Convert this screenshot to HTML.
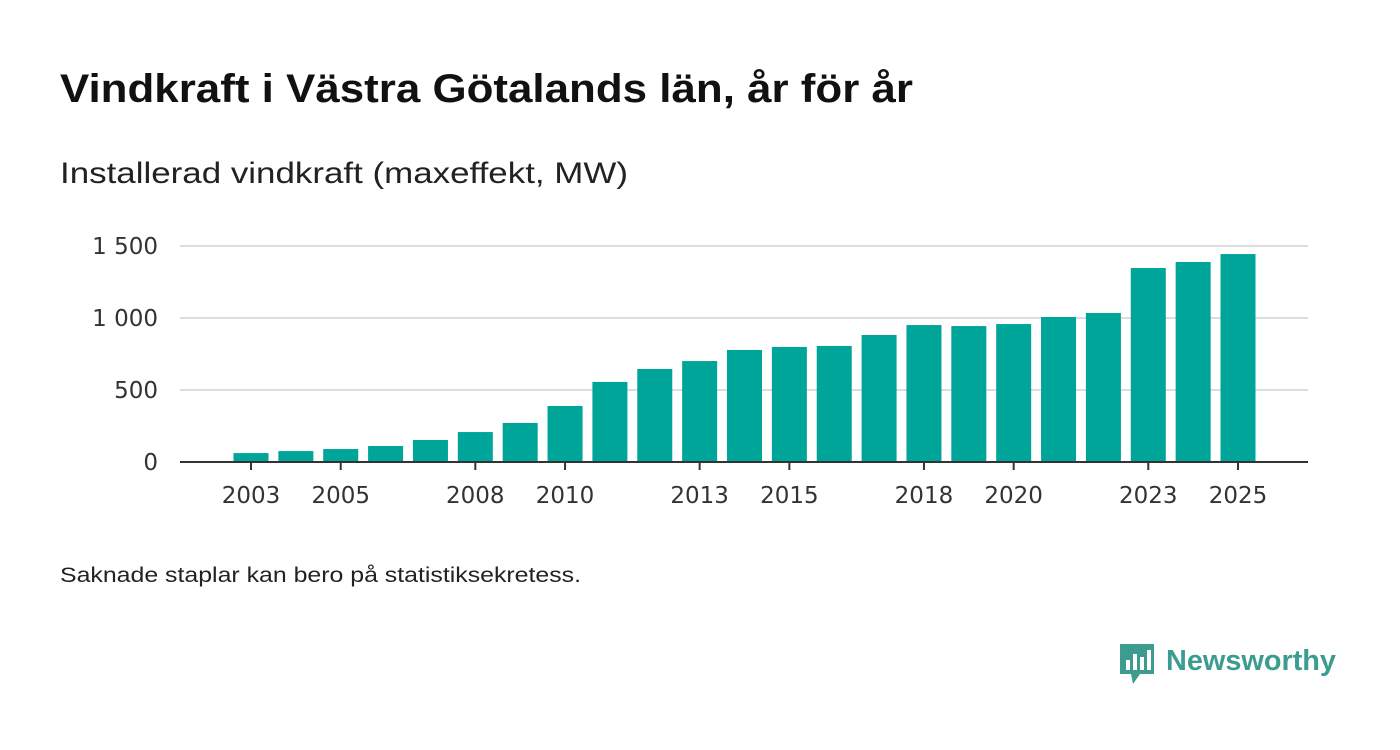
<!DOCTYPE html>
<html><head><meta charset="utf-8"><style>
body{margin:0;width:1400px;height:745px;background:#fff;font-family:"Liberation Sans","DejaVu Sans",sans-serif;overflow:hidden}
</style></head><body>
<svg width="1400" height="745">
<text x="60" y="102" font-size="40" font-weight="bold" fill="#111" textLength="853" lengthAdjust="spacingAndGlyphs">Vindkraft i Västra Götalands län, år för år</text>
<text x="60" y="183" font-size="30" fill="#222" textLength="568" lengthAdjust="spacingAndGlyphs">Installerad vindkraft (maxeffekt, MW)</text>
<g id="grid"></g><g id="bars"></g><g id="xaxis"></g>
<text x="60" y="582" font-size="21" fill="#222" textLength="521" lengthAdjust="spacingAndGlyphs">Saknade staplar kan bero på statistiksekretess.</text>
<g>
<path d="M1120 644 h34 v30 h-14 l-7 10 l-2 -10 h-11 z" fill="#3c9c90"/>
<rect x="1126" y="660" width="4" height="10" fill="#fff"/><rect x="1133" y="654" width="4" height="16" fill="#fff"/><rect x="1140" y="657" width="4" height="13" fill="#fff"/><rect x="1147" y="650" width="4" height="20" fill="#fff"/>
<text x="1166" y="670" font-size="29" font-weight="bold" fill="#3c9c90" textLength="170" lengthAdjust="spacingAndGlyphs">Newsworthy</text>
</g>
</svg>
<script>
const years=[2003,2004,2005,2006,2007,2008,2009,2010,2011,2012,2013,2014,2015,2016,2017,2018,2019,2020,2021,2022,2023,2024,2025];
const values=[62,76,90,111,153,208,271,389,556,646,701,778,799,806,882,951,944,958,1007,1035,1347,1389,1444];
const yTicks=[0,500,1000,1500];
const yTickLabels=["0","500","1 000","1 500"];
const xLabelYears=[2003,2005,2008,2010,2013,2015,2018,2020,2023,2025];
const NS="http://www.w3.org/2000/svg";
const y0=462,pxPer=216/1500;
const yS=v=>y0-v*pxPer;
const xS=yr=>251+(yr-2003)*(1238-251)/22;
function mk(t,a,p){const e=document.createElementNS(NS,t);for(const k in a)e.setAttribute(k,a[k]);p.appendChild(e);return e;}
const g=document.getElementById('grid'),b=document.getElementById('bars'),xa=document.getElementById('xaxis');
yTicks.forEach((v,i)=>{
 if(v>0){const l=mk('line',{x1:180,x2:1308,y1:yS(v),y2:yS(v),stroke:'#ddd','stroke-width':2},g);
 
 }
 const t=mk('text',{x:158,y:yS(v)+8,'font-size':23,fill:'#333','text-anchor':'end','font-family':'DejaVu Sans, sans-serif'},g);t.textContent=yTickLabels[i];
 
 
});
years.forEach((yr,i)=>{
 const r=mk('rect',{x:xS(yr)-17.5,y:yS(values[i]),width:35,height:values[i]*pxPer,fill:'#00a59a'},b);
 
 
});
const ax=mk('line',{x1:180,x2:1308,y1:y0,y2:y0,stroke:'#333','stroke-width':2},xa);


xLabelYears.forEach(yr=>{
 mk('line',{x1:xS(yr),x2:xS(yr),y1:y0,y2:y0+8,stroke:'#333','stroke-width':2},xa);
 const t=mk('text',{x:xS(yr),y:503,'font-size':23,fill:'#333','text-anchor':'middle','font-family':'DejaVu Sans, sans-serif'},xa);t.textContent=yr;
 
 
});
</script>
</body></html>
